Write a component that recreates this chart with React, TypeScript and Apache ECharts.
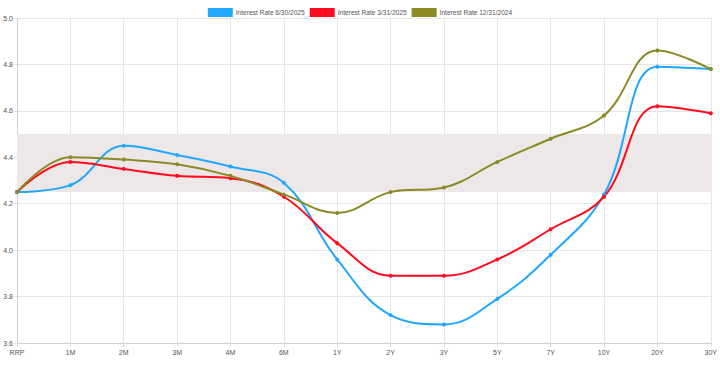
import React, { useEffect, useRef } from "react";
import * as echarts from "echarts";

const categories = ["RRP", "1M", "2M", "3M", "4M", "6M", "1Y", "2Y", "3Y", "5Y", "7Y", "10Y", "20Y", "30Y"];
const rate20250630 = [4.25, 4.28, 4.45, 4.41, 4.36, 4.29, 3.96, 3.72, 3.68, 3.79, 3.98, 4.24, 4.79, 4.78];
const rate20250331 = [4.25, 4.38, 4.35, 4.32, 4.31, 4.23, 4.03, 3.89, 3.89, 3.96, 4.09, 4.23, 4.62, 4.59];
const rate20241231 = [4.25, 4.40, 4.39, 4.37, 4.32, 4.24, 4.16, 4.25, 4.27, 4.38, 4.48, 4.58, 4.86, 4.78];
const seriesNames = ["Interest Rate 6/30/2025", "Interest Rate 3/31/2025", "Interest Rate 12/31/2024"];
const bandLow = 4.25;
const bandHigh = 4.5;

const FONT = "'Liberation Sans Narrow', 'Liberation Sans', Arial, sans-serif";

export default function App() {
  const ref = useRef<HTMLDivElement>(null);
  useEffect(() => {
    if (!ref.current) return;
    const chart = echarts.init(ref.current, null, { renderer: "svg" });
    const mk = (name: string, data: number[], color: string, extra: any = {}) => ({
      name,
      type: "line",
      data,
      smooth: 0.4,
      symbol: "circle",
      symbolSize: 4,
      lineStyle: { width: 2, color },
      itemStyle: { color },
      ...extra,
    });
    chart.setOption({
      animation: false,
      textStyle: { fontFamily: FONT },
      legend: {
        top: 3,
        left: "center",
        itemWidth: 25,
        itemHeight: 9,
        itemGap: 5,
        icon: "rect",
        textStyle: { fontSize: 6.6, color: "#555", fontFamily: FONT, padding: [0, 0, 0, -2] },
        data: seriesNames,
      },
      grid: { left: 17, right: 9, top: 18, bottom: 29, containLabel: false },
      xAxis: {
        type: "category",
        data: categories,
        boundaryGap: false,
        axisLine: { lineStyle: { color: "#d0d0d0" } },
        axisTick: { show: true, length: 4, lineStyle: { color: "#e0e0e0" } },
        axisLabel: { fontSize: 7, color: "#555", margin: 6, fontFamily: FONT },
        splitLine: { show: true, lineStyle: { color: "#e6e6e6" } },
      },
      yAxis: {
        type: "value",
        min: 3.6,
        max: 5.0,
        interval: 0.2,
        axisLine: { show: true, lineStyle: { color: "#d0d0d0" } },
        axisTick: { show: true, length: 3, lineStyle: { color: "#e0e0e0" } },
        axisLabel: {
          fontSize: 7,
          color: "#555",
          margin: 4,
          fontFamily: FONT,
          formatter: (v: number) => v.toFixed(1),
        },
        splitLine: { show: true, lineStyle: { color: "#e6e6e6" } },
      },
      series: [
        mk(seriesNames[0], rate20250630, "#22a7ff", {
          markArea: {
            silent: true,
            itemStyle: { color: "#eee7e7" },
            data: [[{ yAxis: bandLow }, { yAxis: bandHigh }]],
          },
        }),
        mk(seriesNames[1], rate20250331, "#ff0a1e"),
        mk(seriesNames[2], rate20241231, "#8c8a26"),
      ],
    });
    return () => chart.dispose();
  }, []);
  return <div ref={ref} style={{ width: 720, height: 372, position: "absolute", left: 0, top: 0, background: "#fff" }} />;
}
